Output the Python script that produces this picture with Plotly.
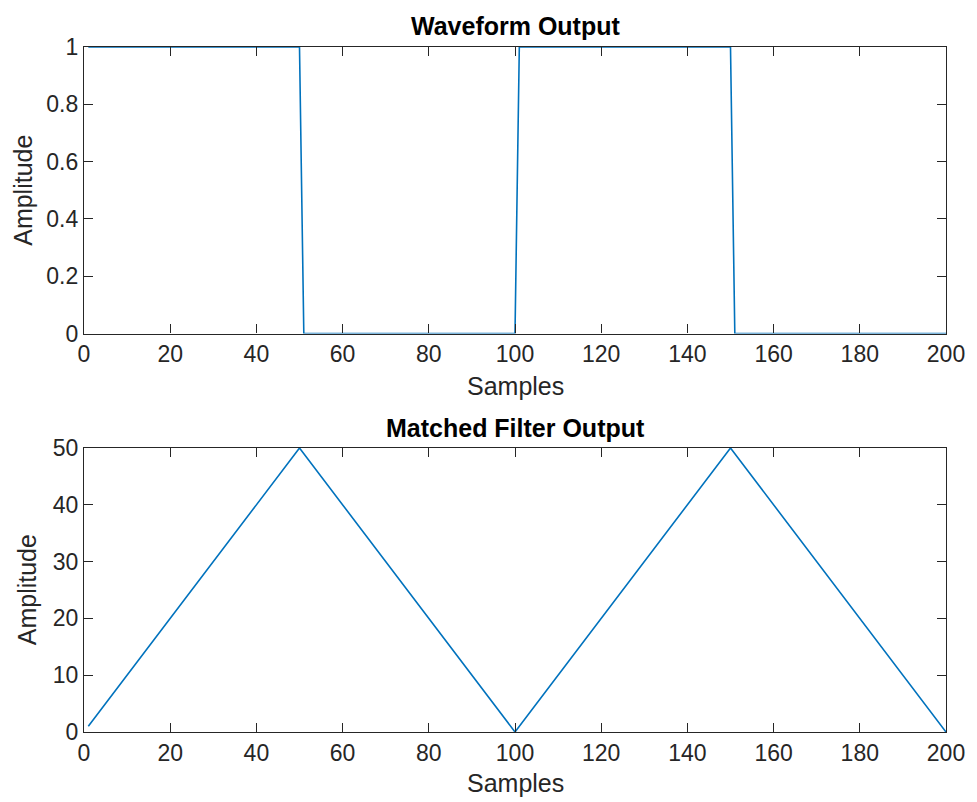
import plotly.graph_objects as go
from plotly.subplots import make_subplots

# Data (breakpoints of the plotted polylines)
wave_samples = [1, 50, 51, 100, 101, 150, 151, 200]
wave_amplitude = [1, 1, 0, 0, 1, 1, 0, 0]

mf_samples = [1, 50, 100, 101, 150, 200]
mf_amplitude = [1, 50, 0, 1, 50, 0]

x_ticks = [0, 20, 40, 60, 80, 100, 120, 140, 160, 180, 200]
wave_yticks = [0, 0.2, 0.4, 0.6, 0.8, 1]
wave_yticklabels = ["0", "0.2", "0.4", "0.6", "0.8", "1"]
mf_yticks = [0, 10, 20, 30, 40, 50]

W, H = 977, 802
ML, MR, MT, MB = 84, 27, 47, 70
PW, PH = W - ML - MR, H - MT - MB

def py(p):
    return (H - MB - p) / PH

def px(p):
    return (p - ML) / PW

LINE = "#0072BD"
AX = "#262626"
FONT = "Liberation Sans, Arial, Helvetica, sans-serif"

fig = make_subplots(rows=2, cols=1)
fig.add_trace(go.Scatter(x=wave_samples, y=wave_amplitude, mode="lines",
                         line=dict(color=LINE, width=1.6), showlegend=False), row=1, col=1)
fig.add_trace(go.Scatter(x=mf_samples, y=mf_amplitude, mode="lines",
                         line=dict(color=LINE, width=1.6), showlegend=False), row=2, col=1)

axis_common = dict(showline=True, linecolor=AX, linewidth=1.2, mirror="ticks",
                   ticks="inside", ticklen=9, tickwidth=1.2, tickcolor=AX,
                   showgrid=False, zeroline=False,
                   tickfont=dict(family=FONT, size=23, color=AX))

top_dom = [py(333.5), 1.0]
bot_dom = [0.0, py(448)]

fig.update_layout(
    width=W, height=H, margin=dict(l=ML, r=MR, t=MT, b=MB),
    paper_bgcolor="white", plot_bgcolor="white",
    font=dict(family=FONT, color=AX),
    xaxis=dict(range=[0, 200], tickvals=x_ticks, domain=[0, 1], anchor="y", **axis_common),
    yaxis=dict(range=[0, 1], tickvals=wave_yticks, ticktext=wave_yticklabels,
               domain=top_dom, anchor="x", **axis_common),
    xaxis2=dict(range=[0, 200], tickvals=x_ticks, domain=[0, 1], anchor="y2", **axis_common),
    yaxis2=dict(range=[0, 50], tickvals=mf_yticks, domain=bot_dom, anchor="x2", **axis_common),
)

ann = []
ann.append(dict(text="<b>Waveform Output</b>", x=0.5, y=py(26), xref="paper", yref="paper",
                showarrow=False, xanchor="center", yanchor="middle",
                font=dict(family=FONT, size=25, color="#000000")))
ann.append(dict(text="<b>Matched Filter Output</b>", x=0.5, y=py(428), xref="paper", yref="paper",
                showarrow=False, xanchor="center", yanchor="middle",
                font=dict(family=FONT, size=25, color="#000000")))
ann.append(dict(text="Samples", x=0.5, y=py(386), xref="paper", yref="paper",
                showarrow=False, xanchor="center", yanchor="middle",
                font=dict(family=FONT, size=25, color=AX)))
ann.append(dict(text="Samples", x=0.5, y=py(783), xref="paper", yref="paper",
                showarrow=False, xanchor="center", yanchor="middle",
                font=dict(family=FONT, size=25, color=AX)))
ann.append(dict(text="Amplitude", x=px(23), y=py(190.5), xref="paper", yref="paper",
                showarrow=False, xanchor="center", yanchor="middle", textangle=-90,
                font=dict(family=FONT, size=25, color=AX)))
ann.append(dict(text="Amplitude", x=px(27), y=py(590), xref="paper", yref="paper",
                showarrow=False, xanchor="center", yanchor="middle", textangle=-90,
                font=dict(family=FONT, size=25, color=AX)))
fig.update_layout(annotations=ann)

fig.write_html("out.html", config={"displayModeBar": False})

# remove default page margins so the figure fills the window exactly
with open("out.html", "r", encoding="utf-8") as f:
    html = f.read()
html = html.replace("<head>", "<head><style>html,body{margin:0;padding:0;overflow:hidden;}</style>", 1)
with open("out.html", "w", encoding="utf-8") as f:
    f.write(html)
